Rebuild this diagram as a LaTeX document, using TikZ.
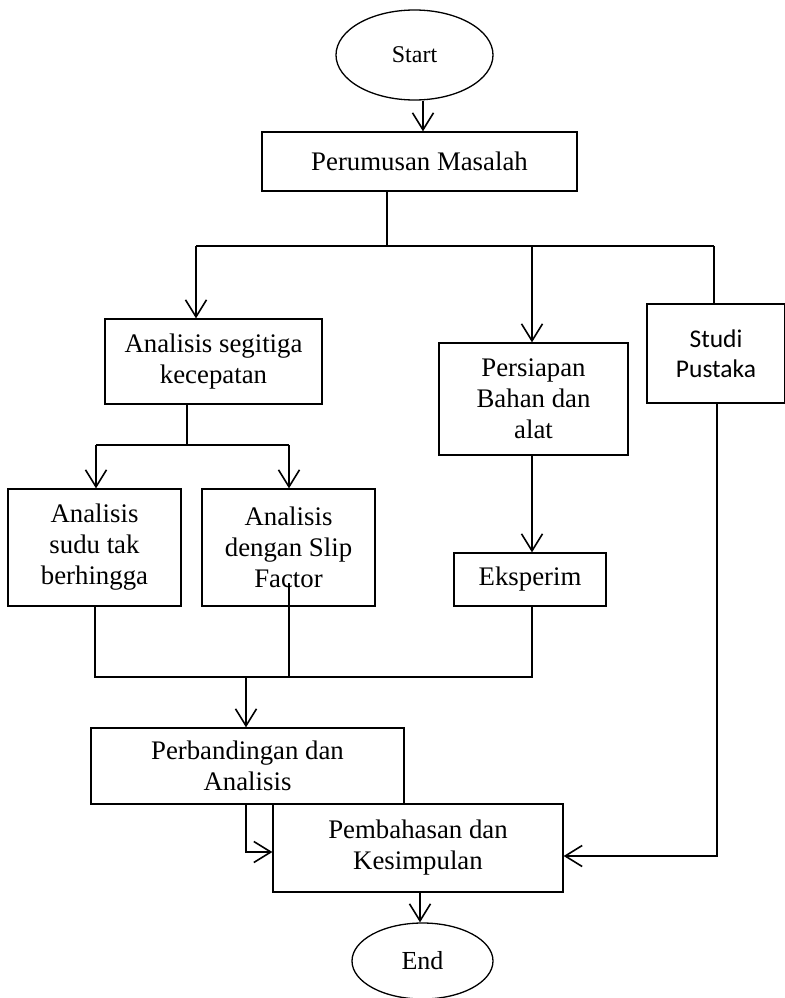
\documentclass[tikz,border=0pt]{standalone}
\usepackage{fontspec}
\setmainfont{Liberation Serif}
\newfontfamily\carlitofont{Carlito}
\usetikzlibrary{shapes.geometric,arrows.meta}
\begin{document}
\begin{tikzpicture}[x=1pt,y=-1pt,
  box/.style={draw, line width=1.3pt, rectangle, inner sep=0pt, align=center, font=\fontsize{26.8}{31}\selectfont},
  term/.style={draw, line width=1.3pt, ellipse, inner sep=0pt},
  con/.style={line width=1.9pt},
  arr/.style={con, -{Straight Barb[length=17pt,width=21pt,line width=1.6pt]}}]
\useasboundingbox (0,0) rectangle (784,998);

\node[term, minimum width=157pt, minimum height=90pt, font=\fontsize{24}{28}\selectfont] (start) at (414.5,55) {Start};
\node[box, minimum width=315pt, minimum height=59pt] (perum) at (419.5,161.5) {Perumusan Masalah};
\node[box, minimum width=217pt, minimum height=85pt] (seg) at (213.5,361.5) {Analisis segitiga\\kecepatan};
\node[box, minimum width=173pt, minimum height=117pt] (sudu) at (94.5,547.5) {Analisis\\sudu tak\\berhingga};
\node[box, minimum width=173pt, minimum height=117pt] (slip) at (288.5,547.5) {Analisis\\dengan Slip\\Factor};
\node[box, minimum width=189pt, minimum height=112pt] (pers) at (533.5,399) {Persiapan\\Bahan dan\\alat};
\node[box, minimum width=152pt, minimum height=53pt] (eks) at (530,579.5) {Eksperim};
\node[box, minimum width=138pt, minimum height=99pt, font=\carlitofont\fontsize{25.5}{30}\selectfont] (studi) at (716,353.5) {Studi\\Pustaka};
\node[box, minimum width=313pt, minimum height=76pt] (perb) at (247.5,766) {Perbandingan dan\\Analisis};
\node[box, minimum width=290pt, minimum height=88pt] (pemb) at (418,848) {Pembahasan dan\\Kesimpulan};
\node[term, minimum width=141pt, minimum height=76pt, font=\fontsize{26}{30}\selectfont] (fin) at (422.5,961) {End};

% start -> perumusan
\draw[arr] ([xshift=8.5pt]start.south) -- ([xshift=8.5pt]start.south |- perum.north);

% first split
\coordinate (j1) at (387,246);
\coordinate (j1l) at (196,246);
\coordinate (j1m) at (532,246);
\coordinate (j1r) at (714,246);
\draw[con] (perum.south -| j1) -- (j1);
\draw[con] (j1l) -- (j1r);
\draw[arr] (j1l) -- (j1l |- seg.north);
\draw[arr] (j1m) -- (j1m |- pers.north);
\draw[con] (j1r) -- (j1r |- studi.north);

% second split
\coordinate (j2) at (187,445);
\coordinate (j2l) at (96,445);
\coordinate (j2r) at (289,445);
\draw[con] (seg.south -| j2) -- (j2);
\draw[con] (j2l) -- (j2r);
\draw[arr] (j2l) -- (j2l |- sudu.north);
\draw[arr] (j2r) -- (j2r |- slip.north);

% persiapan -> eksperim
\draw[arr] (pers.south -| j1m) -- (eks.north -| j1m);

% merge
\coordinate (j3l) at (95,677);
\coordinate (j3r) at (532,677);
\coordinate (j3m) at (246,677);
\coordinate (slipin) at (289,583);
\draw[con] (sudu.south -| j3l) -- (j3l) -- (j3r) -- (eks.south -| j3r);
\draw[con] (slipin) -- (slipin |- j3l);
\draw[arr] (j3m) -- (j3m |- perb.north);

% to pembahasan
\coordinate (k1) at (246,852);
\draw[arr] (perb.south -| k1) -- (k1) -- (k1 -| pemb.west);
\coordinate (k2) at (717,856);
\draw[arr] (studi.south -| k2) -- (k2) -- (k2 -| pemb.east);

% to end
\coordinate (k3) at (420,900);
\draw[arr] (pemb.south -| k3) -- (fin.north -| k3);
\end{tikzpicture}
\end{document}
